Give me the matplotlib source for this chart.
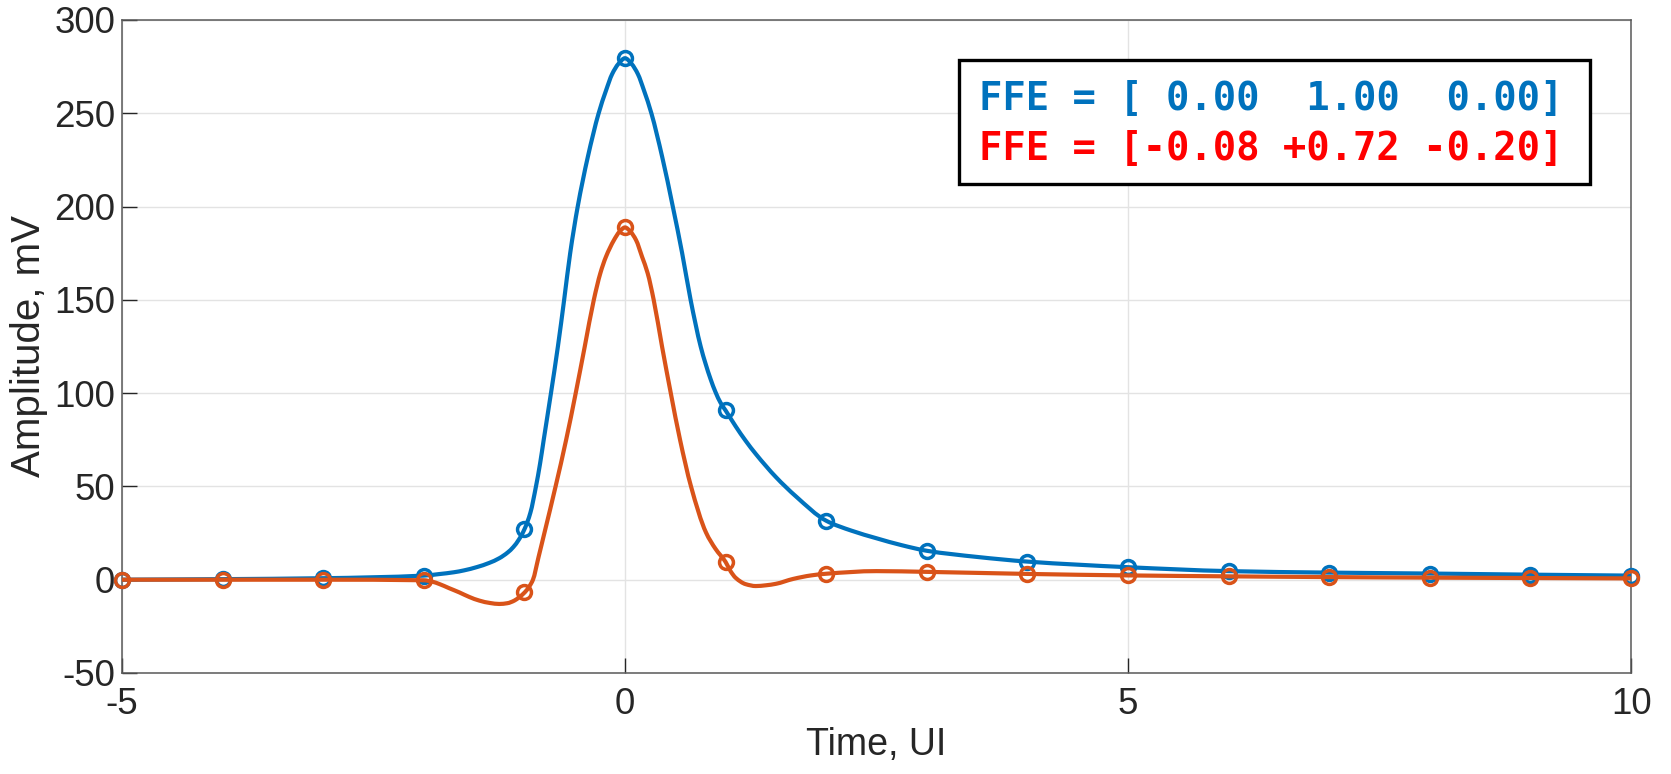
import matplotlib
matplotlib.use("Agg")
import matplotlib.pyplot as plt
from matplotlib.patches import Rectangle, PathPatch
from matplotlib.path import Path

# ---- data ----
# sampled symbols (one per UI)
ui = [-5, -4, -3, -2, -1, 0, 1, 2, 3, 4, 5, 6, 7, 8, 9, 10]
blue_samples = [0.0, 0.3, 0.8, 2.2, 27.0, 279.5, 90.7, 31.6, 15.5, 9.7, 6.7, 4.6, 3.8, 3.3, 2.7, 2.2]
orange_samples = [0.0, 0.0, 0.0, -0.3, -6.8, 188.8, 9.5, 3.2, 4.2, 3.1, 2.3, 1.8, 1.4, 1.1, 0.9, 0.7]

# continuous pulse responses
blue_t = [-5, -4, -3, -2, -1.85, -1.7, -1.6, -1.47, -1.35, -1.25, -1.166, -1.11, -1.055,
          -1.0, -0.94, -0.885, -0.845, -0.808, -0.736, -0.667, -0.605, -0.545, -0.47,
          -0.37, -0.262, -0.19, -0.128, -0.065, 0.0,
          0.065, 0.128, 0.19, 0.262, 0.37, 0.475, 0.568, 0.652, 0.752, 0.80, 0.85,
          0.90, 0.95, 1.0, 1.1, 1.2, 1.3, 1.5, 1.7, 2.0, 2.25, 2.5, 2.75, 3.0, 3.5,
          4, 5, 6, 7, 8, 9, 10]
blue_v = [0.0, 0.3, 0.8, 2.2, 3.0, 4.0, 5.0, 6.8, 9.0, 11.5, 14.6, 17.5, 21.5,
          27.0, 36.0, 50.0, 62.0, 75.0, 100.0, 125.0, 150.0, 175.0, 200.0,
          226.5, 250.0, 262.0, 271.0, 276.5, 279.5,
          276.5, 271.0, 262.0, 250.0, 226.5, 200.0, 175.0, 150.0, 125.0, 115.9, 107.6,
          100.5, 94.8, 90.7, 82.2, 74.4, 67.4, 55.0, 44.6, 31.6, 26.3, 22.2, 18.5, 15.5, 12.2,
          9.7, 6.7, 4.6, 3.8, 3.3, 2.7, 2.2]

orange_t = [-5, -4, -3, -2, -1.92, -1.846, -1.75, -1.647, -1.55, -1.448, -1.34, -1.25,
            -1.17, -1.1, -1.05, -0.997, -0.95, -0.915, -0.86, -0.80, -0.69, -0.585,
            -0.49, -0.40, -0.31, -0.245, -0.19, -0.11, -0.055, 0.0,
            0.055, 0.11, 0.17, 0.225, 0.285, 0.368, 0.455, 0.547, 0.656, 0.805, 0.9,
            1.0, 1.05, 1.1, 1.2, 1.3, 1.4, 1.5, 1.67, 1.85, 2.0, 2.5, 3, 4, 5, 6, 7, 8, 9, 10]
orange_v = [0.0, 0.0, 0.0, -0.3, -1.0, -2.3, -4.5, -6.8, -9.2, -11.2, -12.5, -13.0,
            -12.6, -11.2, -9.3, -6.8, -3.5, 0.0, 12.0, 25.3, 50.0, 75.0,
            100.0, 125.0, 150.0, 164.3, 173.0, 182.0, 186.5, 188.8,
            186.5, 182.0, 173.0, 164.3, 150.0, 125.0, 100.0, 75.0, 50.0, 25.3, 16.5,
            9.5, 4.5, 1.0, -2.4, -3.4, -3.0, -2.2, 0.4, 2.3, 3.2, 4.6, 4.2, 3.1, 2.3, 1.8,
            1.4, 1.1, 0.9, 0.7]

x_ticks = [-5, 0, 5, 10]
y_ticks = [-50, 0, 50, 100, 150, 200, 250, 300]
x_label = "Time, UI"
y_label = "Amplitude, mV"
legend_lines = ["FFE = [ 0.00  1.00  0.00]", "FFE = [-0.08 +0.72 -0.20]"]

# ---- styling ----
BLUE = "#0072BD"
ORANGE = "#D95319"
TXT = "#262626"
plt.rcParams["font.family"] = ["Liberation Sans", "DejaVu Sans"]


def smooth_path(xs, ys):
    """Bezier path passing through every read point (cubic Hermite segments)."""
    n = len(xs)
    slopes = []
    for i in range(n):
        if i == 0:
            m = (ys[1] - ys[0]) / (xs[1] - xs[0])
        elif i == n - 1:
            m = (ys[-1] - ys[-2]) / (xs[-1] - xs[-2])
        else:
            d0 = (ys[i] - ys[i - 1]) / (xs[i] - xs[i - 1])
            d1 = (ys[i + 1] - ys[i]) / (xs[i + 1] - xs[i])
            if d0 * d1 <= 0:
                m = 0.0
            else:
                h0 = xs[i] - xs[i - 1]
                h1 = xs[i + 1] - xs[i]
                w0, w1 = 2 * h1 + h0, h1 + 2 * h0
                m = (w0 + w1) / (w0 / d0 + w1 / d1)
        slopes.append(m)
    verts = [(xs[0], ys[0])]
    codes = [Path.MOVETO]
    for i in range(n - 1):
        h = xs[i + 1] - xs[i]
        verts += [(xs[i] + h / 3, ys[i] + slopes[i] * h / 3),
                  (xs[i + 1] - h / 3, ys[i + 1] - slopes[i + 1] * h / 3),
                  (xs[i + 1], ys[i + 1])]
        codes += [Path.CURVE4] * 3
    return Path(verts, codes)


fig = plt.figure(figsize=(16.71, 7.74), dpi=100)
ax = fig.add_axes([0.0730, 0.1305, 0.9031, 0.9742 - 0.1305])

ax.add_patch(PathPatch(smooth_path(blue_t, blue_v), facecolor="none", edgecolor=BLUE,
                       lw=3.0, capstyle="round", joinstyle="round", zorder=3))
ax.plot(ui, blue_samples, linestyle="none", marker="o", ms=10, mfc="none",
        mec=BLUE, mew=2.5, zorder=4, clip_on=False)
ax.add_patch(PathPatch(smooth_path(orange_t, orange_v), facecolor="none", edgecolor=ORANGE,
                       lw=3.0, capstyle="round", joinstyle="round", zorder=5))
ax.plot(ui, orange_samples, linestyle="none", marker="o", ms=10, mfc="none",
        mec=ORANGE, mew=2.5, zorder=6, clip_on=False)

ax.set_xlim(-5, 10)
ax.set_ylim(-50, 300)
ax.set_xticks(x_ticks)
ax.set_yticks(y_ticks)
ax.set_xticklabels([str(v) for v in x_ticks])
ax.set_yticklabels([str(v) for v in y_ticks])
ax.tick_params(direction="in", length=10.5, width=1.0, colors=TXT, labelsize=26.5, pad=5)
ax.tick_params(axis="x", pad=10)
ax.grid(True, color="#E3E3E3", lw=1.0, zorder=0)
ax.set_axisbelow(True)
for s in ax.spines.values():
    s.set_color("#595959")
    s.set_linewidth(1.1)

ax.set_xlabel(x_label, fontsize=27, color=TXT, labelpad=4)
ax.set_ylabel(y_label, fontsize=29, color=TXT, labelpad=4)

# annotation box
W, H = 1671.0, 774.0
rect = Rectangle((959 / W, 1 - 184 / H), (1590 - 959) / W, 124 / H,
                 transform=fig.transFigure, facecolor="white", edgecolor="black",
                 lw=2.4, zorder=10)
fig.patches.append(rect)
fig.text(979 / W, 1 - 99 / H, legend_lines[0], color=BLUE, fontsize=28,
         fontweight="bold", family="DejaVu Sans Mono", va="center", ha="left", zorder=11)
fig.text(979 / W, 1 - 149 / H, legend_lines[1], color="#FF0000", fontsize=28,
         fontweight="bold", family="DejaVu Sans Mono", va="center", ha="left", zorder=11)

fig.savefig("out.png", dpi=100)
